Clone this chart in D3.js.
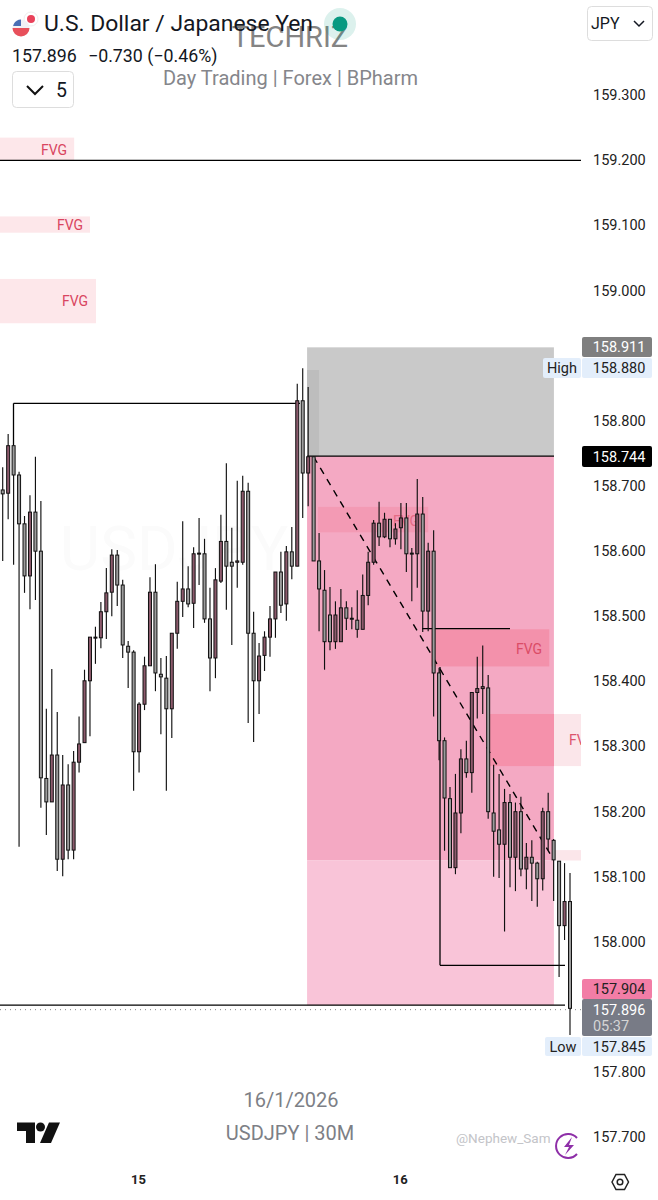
<!DOCTYPE html>
<html><head><meta charset="utf-8">
<script src="https://cdn.jsdelivr.net/npm/d3@7/dist/d3.min.js"></script>
<style>html,body{margin:0;padding:0;background:#fff}svg{display:block}text{font-family:Roboto,sans-serif}</style>
</head><body><svg id="c" width="658" height="1200"></svg>
<script>
const opens=[158.692,158.687,158.760,158.715,158.640,158.560,158.658,158.598,158.249,158.213,158.285,158.125,158.239,158.139,158.274,158.304,158.399,158.465,158.465,158.505,158.535,158.592,158.546,158.452,158.443,158.290,158.363,158.422,158.535,158.409,158.403,158.356,158.472,158.521,158.540,158.518,158.594,158.594,158.494,158.434,158.552,158.613,158.581,158.581,158.581,158.690,158.472,158.399,158.438,158.466,158.494,158.566,158.517,158.597,158.575,158.829,158.718,158.743,158.583,158.538,158.500,158.459,158.459,158.511,158.495,158.492,158.478,158.530,158.581,158.641,158.620,158.647,158.617,158.634,158.649,158.595,158.594,158.655,158.506,158.598,158.411,158.307,158.218,158.112,158.196,158.279,158.258,158.381,158.387,158.388,158.196,158.170,158.148,158.212,158.128,158.198,158.110,158.128,158.119,158.095,158.198,158.154,158.122,158.023,158.060];
const closes=[158.686,158.760,158.715,158.640,158.560,158.658,158.598,158.250,158.213,158.285,158.125,158.239,158.139,158.274,158.302,158.399,158.466,158.466,158.505,158.534,158.592,158.546,158.454,158.443,158.290,158.363,158.422,158.535,158.411,158.405,158.356,158.472,158.521,158.540,158.517,158.594,158.595,158.494,158.434,158.554,158.613,158.575,158.575,158.583,158.690,158.472,158.399,158.437,158.466,158.494,158.566,158.515,158.597,158.575,158.829,158.718,158.743,158.583,158.540,158.459,158.459,158.500,158.511,158.495,158.494,158.478,158.530,158.581,158.641,158.620,158.647,158.617,158.632,158.649,158.594,158.594,158.655,158.506,158.598,158.411,158.307,158.219,158.112,158.196,158.279,158.258,158.381,158.387,158.390,158.198,158.168,158.148,158.212,158.128,158.198,158.110,158.128,158.119,158.095,158.198,158.156,158.124,158.023,158.060,157.896];
const highs=[158.727,158.778,158.760,158.720,158.652,158.684,158.743,158.675,158.356,158.417,158.351,158.285,158.271,158.291,158.344,158.416,158.466,158.482,158.520,158.572,158.601,158.600,158.554,158.460,158.446,158.366,158.436,158.558,158.578,158.434,158.437,158.472,158.551,158.644,158.575,158.604,158.649,158.617,158.542,158.572,158.654,158.733,158.634,158.706,158.714,158.703,158.505,158.457,158.475,158.514,158.566,158.597,158.606,158.635,158.855,158.879,158.850,158.743,158.626,158.569,158.543,158.521,158.540,158.521,158.512,158.538,158.562,158.597,158.646,158.674,158.657,158.647,158.641,158.672,158.672,158.603,158.709,158.681,158.611,158.630,158.419,158.312,158.236,158.256,158.294,158.307,158.381,158.436,158.453,158.408,158.270,158.256,158.233,158.225,158.212,158.221,158.150,158.154,158.121,158.204,158.227,158.156,158.122,158.119,158.104];
const lows=[158.583,158.647,158.577,158.144,158.534,158.509,158.523,158.204,158.162,158.213,158.107,158.099,158.125,158.125,158.258,158.304,158.314,158.425,158.449,158.463,158.498,158.514,158.434,158.388,158.230,158.258,158.354,158.422,158.383,158.317,158.230,158.311,158.448,158.497,158.512,158.480,158.546,158.488,158.383,158.403,158.549,158.508,158.454,158.542,158.577,158.334,158.305,158.348,158.414,158.436,158.465,158.503,158.491,158.555,158.575,158.649,158.667,158.583,158.475,158.416,158.446,158.448,158.459,158.477,158.478,158.465,158.478,158.515,158.577,158.606,158.618,158.604,158.608,158.601,158.566,158.521,158.542,158.474,158.475,158.344,158.277,158.138,158.112,158.102,158.165,158.250,158.227,158.341,158.348,158.187,158.098,158.096,158.014,158.082,158.076,158.099,158.079,158.061,158.052,158.077,158.139,158.061,157.944,158.001,157.855];

const priceTicks=[159.3,159.2,159.1,159.0,158.8,158.7,158.6,158.5,158.4,158.3,158.2,158.1,158.0,157.8,157.7];
const dayTicks=[24.8,72.8], dayLabels=["15","16"];

// zone tables: [startIndex, endIndex, topPrice, bottomPrice]
const fvgLeft=[[-1,13.1,159.233,159.198],[-1,16,159.112,159.087],[-1,17.1,159.016,158.948]];
const fvgLeftNames=["FVG","FVG","FVG"];
const slZone=[55.8,101.05,158.911,158.744];
const tp1Zone=[55.8,101.05,158.744,158.123];
const tp2Zone=[55.8,101.05,158.123,157.901];
const fvgRight=[[57.8,78,158.666,158.627],[78.5,100.2,158.478,158.421],[89,106,158.348,158.268],[99,106,158.139,158.123]];
const dashFrom=[57,158.743], dashTo=[101,158.124];

const svg=d3.select("#c");
const x=d3.scaleLinear().domain([0,104]).range([2.7,570]);
const y=d3.scaleLinear().domain([159.3,157.7]).range([94,1136]);
const rect=(g,z,fill)=>g.append("rect").attr("x",Math.max(0,x(z[0]))).attr("y",y(z[2])).attr("width",x(z[1])-Math.max(0,x(z[0]))).attr("height",y(z[3])-y(z[2])).attr("fill",fill);
const rightEdge=581;

// faint chart watermark
svg.append("text").attr("x",60).attr("y",570).attr("font-size",62).attr("fill","#fbfbfb").text("USDJPY");

const zones=svg.append("g");
fvgLeft.forEach(z=>rect(zones,z,"#fde7ea"));
// bands extending right of the position block
zones.append("rect").attr("x",554).attr("y",y(158.348)).attr("width",rightEdge-554).attr("height",y(158.268)-y(158.348)).attr("fill","#fbe6ea");
zones.append("rect").attr("x",554).attr("y",y(158.139)).attr("width",rightEdge-554).attr("height",y(158.123)-y(158.139)).attr("fill","#fbe6ea");
rect(zones,slZone,"#c9c9c9");
rect(zones,tp1Zone,"#f4a9c3");
rect(zones,tp2Zone,"#f9c4d8");
zones.append("rect").attr("x",x(55.8)).attr("y",370).attr("width",12).attr("height",86).attr("fill","#bdbdbd");
rect(zones,fvgRight[0],"#f39ab4");
rect(zones,fvgRight[1],"#f391ab");
zones.append("rect").attr("x",488).attr("y",y(158.348)).attr("width",66).attr("height",y(158.268)-y(158.348)).attr("fill","#f591ab");

// level lines
const lines=svg.append("g").attr("stroke","#000").attr("fill","none").attr("stroke-width",1.3);
const L=(x1,p1,x2,p2,w)=>lines.append("line").attr("x1",x1).attr("x2",x2).attr("y1",y(p1)).attr("y2",y(p2)).attr("stroke-width",w||1.3);
L(0,159.198,581,159.198);
L(13.5,158.825,300,158.825);
L(13.5,158.825,13.5,158.760);
L(x(55.8),158.744,554,158.744);
L(0,157.901,565,157.901);
L(422,158.479,510,158.479);
L(440,158.420,440,157.962);
L(440,157.962,565,157.962);
lines.append("line").attr("x1",x(dashFrom[0])).attr("y1",y(dashFrom[1])).attr("x2",x(dashTo[0])).attr("y2",y(dashTo[1])).attr("stroke-width",1.4).attr("stroke-dasharray","7 6");
lines.append("line").attr("x1",0).attr("x2",581).attr("y1",y(157.894)).attr("y2",y(157.894)).attr("stroke","#888").attr("stroke-width",1).attr("stroke-dasharray","1 4");

// zone labels (under the candles)
const lab=(tx,ty,s,fill,op)=>svg.append("text").attr("x",tx).attr("y",ty).attr("text-anchor","middle").attr("dominant-baseline","central").attr("font-size",14).attr("fill",fill).attr("opacity",op||1).text(s);
lab(54,149.5,fvgLeftNames[0],"#d9455f");lab(70,224.5,fvgLeftNames[1],"#d9455f");lab(75,300.5,fvgLeftNames[2],"#d9455f");
lab(406,521,"FVG","#d9455f",.55);lab(529,648.5,"FVG","#d9455f",.9);
svg.append("defs").append("clipPath").attr("id","cp").append("rect").attr("x",480).attr("y",700).attr("width",101).attr("height",80);
lab(582,740,"FVG","#d9455f",.9).attr("clip-path","url(#cp)");

// candles
const data=opens.map((o,i)=>({i,o,c:closes[i],h:highs[i],l:lows[i]}));
const cg=svg.append("g");
cg.selectAll("line").data(data).join("line")
  .attr("x1",d=>x(d.i)).attr("x2",d=>x(d.i)).attr("y1",d=>y(d.h)).attr("y2",d=>y(d.l))
  .attr("stroke","#111").attr("stroke-width",1.15);
cg.selectAll("rect").data(data).join("rect")
  .attr("x",d=>x(d.i)-1.5).attr("width",3)
  .attr("y",d=>y(Math.max(d.o,d.c))).attr("height",d=>Math.max(1,Math.abs(y(d.o)-y(d.c))))
  .attr("fill",d=>d.c>=d.o?"#8c5a6c":"#9c9c9c").attr("stroke","#111").attr("stroke-width",1);

// price axis
const ax=svg.append("g").attr("transform","translate(593,1)").call(d3.axisRight(y).tickValues(priceTicks).tickSize(0).tickPadding(0).tickFormat(d3.format(".3f")));
ax.select(".domain").remove();
ax.selectAll("text").attr("font-size",14.5).attr("font-family","Roboto").attr("fill","#222");

// price tags
const tag=(x0,y0,w,h,fill,s,col,tx)=>{svg.append("rect").attr("x",x0).attr("y",y0).attr("width",w).attr("height",h).attr("fill",fill).attr("rx",2);
  if(s)svg.append("text").attr("x",tx||x0+w/2).attr("y",y0+h/2+.5).attr("dominant-baseline","central").attr("text-anchor","middle").attr("font-size",14.5).attr("fill",col).text(s);};
tag(582,337,70,20,"#7f7f7f","158.911","#fff",619);
tag(582,358,70,20,"#e3eefb","158.880","#222",619);
tag(543,358,38,20,"#e3eefb","High","#222");
tag(582,446,70,21,"#000","158.744","#fff",619);
tag(582,979,70,20,"#f27da6","157.904","#222",619);
tag(582,999,70,37,"#787b86",null);
svg.append("text").attr("x",619).attr("y",1010).attr("text-anchor","middle").attr("dominant-baseline","central").attr("font-size",14.5).attr("fill","#fff").text("157.896");
svg.append("text").attr("x",611).attr("y",1026).attr("text-anchor","middle").attr("dominant-baseline","central").attr("font-size",14.5).attr("fill","#d5d5d5").text("05:37");
tag(582,1037,70,19,"#e3eefb","157.845","#222",619);
tag(545,1037,36,19,"#e3eefb","Low","#222");

// time axis
const tx=svg.append("g").attr("transform","translate(0,1175)").call(d3.axisBottom(x).tickValues(dayTicks).tickSize(0).tickPadding(0).tickFormat((d,i)=>dayLabels[i]));
tx.select(".domain").remove();
tx.selectAll("text").attr("font-size",13).attr("font-weight",700).attr("font-family","Roboto").attr("fill","#222");

// settings hexagon
svg.append("path").attr("d","M612 1182 L616 1174.5 L624.5 1174.5 L628.5 1182 L624.5 1189.5 L616 1189.5 Z").attr("fill","none").attr("stroke","#222").attr("stroke-width",1.5);
svg.append("circle").attr("cx",620).attr("cy",1182).attr("r",2.8).attr("fill","none").attr("stroke","#222").attr("stroke-width",1.5);

// header
const t=(x0,y0,s,size,fill,anchor)=>svg.append("text").attr("x",x0).attr("y",y0).attr("dominant-baseline","central").attr("font-size",size).attr("fill",fill).attr("text-anchor",anchor||"start").text(s);
t(290,37,"TECHRIZ",29,"#6f6f6f","middle").attr("opacity",.85);
svg.append("circle").attr("cx",31).attr("cy",19).attr("r",7).attr("fill","#fff").attr("stroke","#eee");
svg.append("circle").attr("cx",31).attr("cy",19).attr("r",4).attr("fill","#e9425a");
svg.append("circle").attr("cx",21).attr("cy",28).attr("r",8.5).attr("fill","#f1f1f5");
svg.append("path").attr("d","M12.5 28 a8.5 8.5 0 0 0 17 0 Z").attr("fill","#e8505b");
svg.append("path").attr("d","M13.8 24 a8.5 8.5 0 0 1 7.2 -4.5 v6.5 h-7.9 Z").attr("fill","#4a6fb5");
t(44,23.5,"U.S. Dollar / Japanese Yen",22.9,"#131722");
t(12,55,"157.896",17.8,"#131722");
t(88,55,"−0.730 (−0.46%)",17.8,"#131722");
svg.append("rect").attr("x",12.5).attr("y",71.5).attr("width",61).attr("height",36).attr("rx",4).attr("fill","#fff").attr("stroke","#ddd");
svg.append("path").attr("d","M27 86 L35 94 L43 86").attr("fill","none").attr("stroke","#111").attr("stroke-width",2);
t(56,90,"5",19.5,"#131722");
t(290.5,78,"Day Trading | Forex | BPharm",20,"#85868b","middle");
svg.append("circle").attr("cx",340).attr("cy",24).attr("r",16).attr("fill","#089981").attr("opacity",.14);
svg.append("circle").attr("cx",340).attr("cy",24).attr("r",7.5).attr("fill","#089981");
svg.append("rect").attr("x",587.5).attr("y",6.5).attr("width",65).attr("height",34).attr("rx",4).attr("fill","#fff").attr("stroke","#ddd");
t(591,23,"JPY",16,"#131722");
svg.append("path").attr("d","M634 21 L639 26 L644 21").attr("fill","none").attr("stroke","#131722").attr("stroke-width",1.5);

// footer
t(291,1100,"16/1/2026",20,"#7d7f86","middle");
t(290,1133,"USDJPY | 30M",20,"#7d7f86","middle");
t(456,1138,"@Nephew_Sam",13.5,"#c3c4c8");
svg.append("path").attr("d","M17 1122.5 H35 V1143 H26 V1131 H17 Z").attr("fill","#111");
svg.append("circle").attr("cx",40.5).attr("cy",1127).attr("r",4.5).attr("fill","#111");
svg.append("path").attr("d","M49 1122.5 H60 L51 1143 H40 Z").attr("fill","#111");
svg.append("path").attr("d","M577 1138 A12 12 0 1 0 577 1154").attr("fill","none").attr("stroke","#8e2fa8").attr("stroke-width",2);
svg.append("path").attr("d","M572 1137 L564 1147 H569 L565 1155 L574 1145 H569 Z").attr("fill","#8e2fa8");
</script></body></html>
